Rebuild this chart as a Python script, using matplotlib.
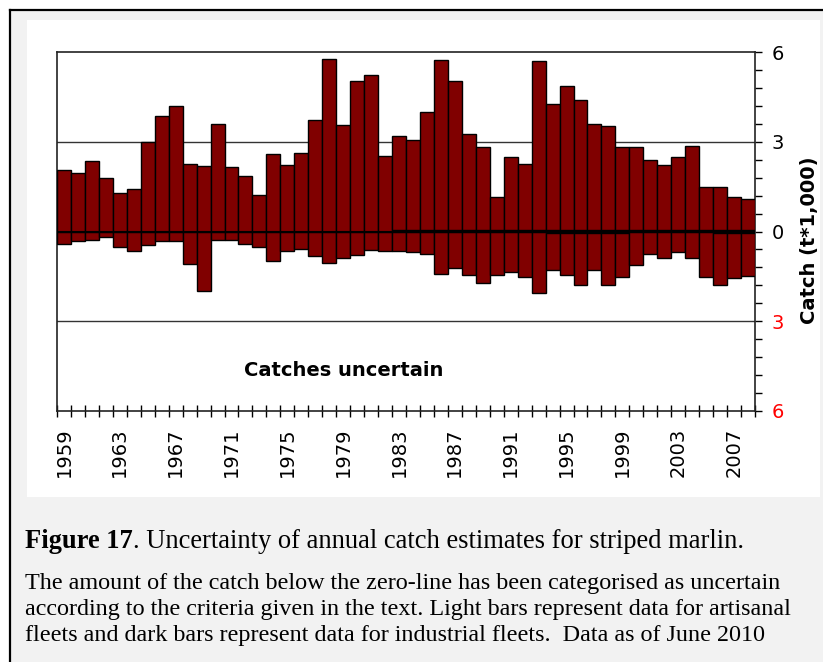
import numpy as np
import matplotlib
matplotlib.use("Agg")
import matplotlib.pyplot as plt
from matplotlib.patches import Rectangle
from matplotlib.ticker import MultipleLocator

years = np.arange(1959, 2009)

# industrial catch (t*1,000), certain part above zero
certain = [2.05, 1.95, 2.35, 1.78, 1.29, 1.41, 2.98, 3.85, 4.18, 2.27,
           2.19, 3.59, 2.16, 1.87, 1.21, 2.60, 2.23, 2.64, 3.73, 5.78,
           3.55, 5.04, 5.24, 2.52, 3.18, 3.05, 4.01, 5.74, 5.04, 3.26,
           2.81, 1.15, 2.48, 2.27, 5.70, 4.25, 4.88, 4.38, 3.59, 3.52,
           2.81, 2.81, 2.40, 2.23, 2.48, 2.85, 1.48, 1.48, 1.15, 1.08]

# uncertain part (drawn below zero)
uncertain = [0.42, 0.33, 0.27, 0.20, 0.53, 0.66, 0.46, 0.33, 0.33, 1.08,
             1.99, 0.27, 0.27, 0.42, 0.53, 0.99, 0.66, 0.57, 0.82, 1.04,
             0.87, 0.79, 0.63, 0.66, 0.66, 0.69, 0.75, 1.41, 1.23, 1.45,
             1.73, 1.45, 1.36, 1.52, 2.07, 1.29, 1.45, 1.78, 1.29, 1.78,
             1.52, 1.12, 0.74, 0.90, 0.69, 0.90, 1.52, 1.78, 1.57, 1.48]

# artisanal part (light bars, very small)
art_certain = [0.0] * 24 + [0.04] * 26
art_uncertain = [0.0] * 35 + [0.05] * 6 + [0.0] * 6 + [0.05] * 3

year_labels = [str(y) for y in range(1959, 2009, 4)]

caption_head = "Figure 17"
caption_rest = ". Uncertainty of annual catch estimates for striped marlin."
caption_lines = [
    "The amount of the catch below the zero-line has been categorised as uncertain",
    "according to the criteria given in the text. Light bars represent data for artisanal",
    "fleets and dark bars represent data for industrial fleets.  Data as of June 2010",
]

dark = "#800000"
light = "#F5C48F"

fig = plt.figure(figsize=(8.23, 6.62), dpi=100, facecolor="white")
W, H = 823, 662


def box(x0, y0, x1, y1):
    return (x0 / W, 1 - y1 / H, (x1 - x0) / W, (y1 - y0) / H)


b = box(10, 10, 823, 662)
fig.patches.append(Rectangle(b[:2], *b[2:], transform=fig.transFigure,
                             facecolor="#F2F2F2", edgecolor="none", zorder=-3))
b = box(27, 20, 820, 497)
fig.patches.append(Rectangle(b[:2], *b[2:], transform=fig.transFigure,
                             facecolor="white", edgecolor="none", zorder=-2))
fig.add_artist(plt.Line2D([10 / W, 10 / W], [0, 1 - 10 / H], transform=fig.transFigure,
                          color="black", lw=1.6))
fig.add_artist(plt.Line2D([10 / W, 1], [1 - 10 / H, 1 - 10 / H], transform=fig.transFigure,
                          color="black", lw=1.6))

ax = fig.add_axes(box(57, 52, 755, 411))
ax.set_zorder(5)
ax.set_facecolor("white")

art_c = np.array(art_certain)
art_u = np.array(art_uncertain)
cer = np.array(certain)
unc = np.array(uncertain)

ax.bar(years, art_c, width=1, color=light, edgecolor="black", linewidth=1, zorder=3)
ax.bar(years, cer - art_c, bottom=art_c, width=1, color=dark, edgecolor="black",
       linewidth=1, zorder=3)
ax.bar(years, -art_u, width=1, color=light, edgecolor="black", linewidth=0.6, zorder=3)
ax.bar(years, -(unc - art_u), bottom=-art_u, width=1, color=dark, edgecolor="black",
       linewidth=1, zorder=3)

ax.set_xlim(1958.5, 2008.5)
ax.set_ylim(-6, 6)

for y in (3, -3):
    ax.axhline(y, color="#333333", lw=1, zorder=1)
ax.axhline(0, color="black", lw=1.5, zorder=4)

for s in ax.spines.values():
    s.set_color("#222222")
    s.set_linewidth(1.2)

ax.yaxis.tick_right()
ax.set_yticks([-6, -3, 0, 3, 6])
ax.set_yticklabels(["6", "3", "0", "3", "6"], fontsize=14)
for lab, c in zip(ax.get_yticklabels(), ["red", "red", "black", "black", "black"]):
    lab.set_color(c)
ax.yaxis.set_minor_locator(MultipleLocator(0.6))
ax.tick_params(axis="y", which="both", direction="out", length=5, width=1, pad=7)
ax.yaxis.set_label_position("right")
ax.set_ylabel("Catch (t*1,000)", fontsize=14, fontweight="bold")
ax.yaxis.set_label_coords(1.064, 0.476)

ax.set_xticks(np.arange(1959, 2009, 4))
ax.set_xticklabels(year_labels, rotation=90, fontsize=14)
ax.set_xticks(np.arange(1958.5, 2009, 1), minor=True)
ax.tick_params(axis="x", which="major", length=0, pad=12)
ax.tick_params(axis="x", which="minor", direction="inout", length=8, width=1)

ax.text(1971.9, -4.65, "Catches uncertain", fontsize=14, fontweight="bold", va="center")

serif = "Liberation Serif"
head = fig.text(25 / W, 1 - 542 / H, caption_head, fontsize=19.1, fontweight="bold",
                family=serif, va="center")
fig.canvas.draw()
hb = head.get_window_extent()
fig.text(hb.x1 / W, 1 - 542 / H, caption_rest, fontsize=19.1, family=serif, va="center")

for i, line in enumerate(caption_lines):
    fig.text(25 / W, 1 - (583 + 26 * i) / H, line, fontsize=17.4, family=serif,
             va="center")

fig.savefig("out.png", dpi=100, facecolor=fig.get_facecolor())
